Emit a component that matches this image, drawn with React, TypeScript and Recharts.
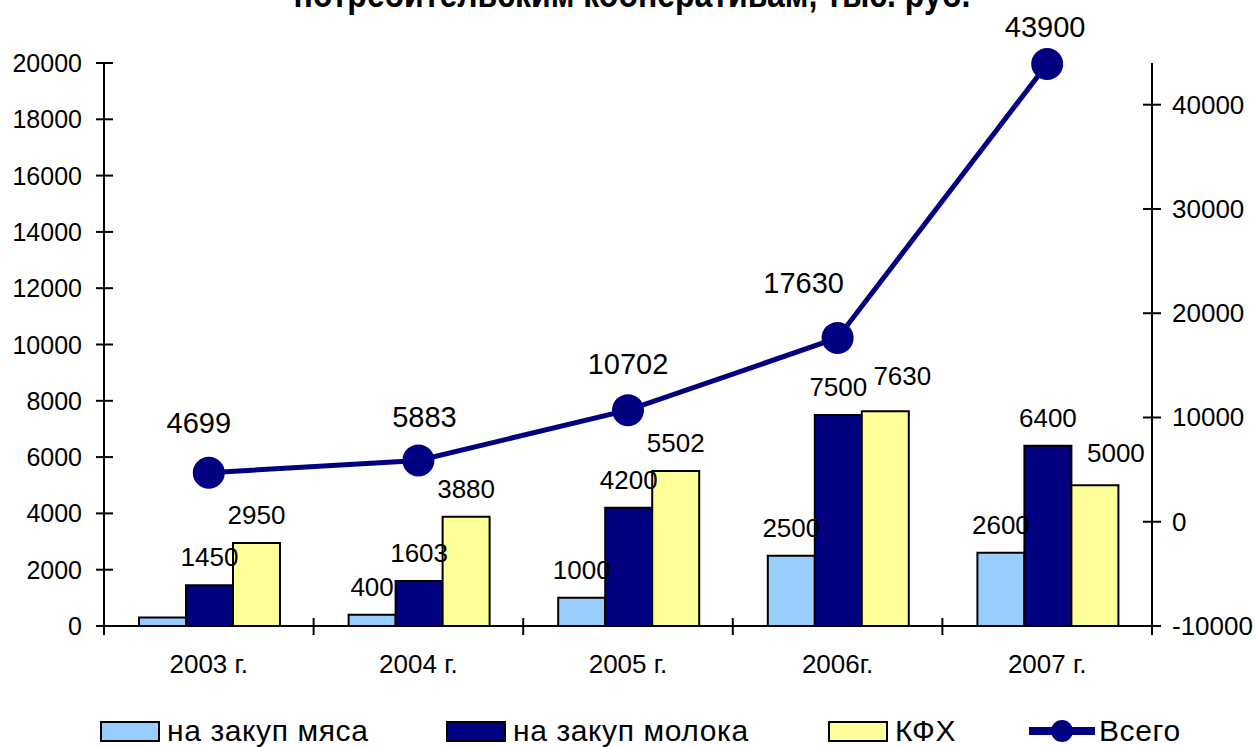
import React from 'react'
import { ComposedChart, Bar, Line, XAxis, YAxis, LabelList } from 'recharts'

const years = ['2003 г.', '2004 г.', '2005 г.', '2006г.', '2007 г.']
const meat = [299, 400, 1000, 2500, 2600]
const milk = [1450, 1603, 4200, 7500, 6400]
const kfh = [2950, 3880, 5502, 7630, 5000]
const total = [4699, 5883, 10702, 17630, 43900]
const leftTicks = [0, 2000, 4000, 6000, 8000, 10000, 12000, 14000, 16000, 18000, 20000]
const rightTicks = [-10000, 0, 10000, 20000, 30000, 40000]

const W = 1256
const H = 747
const PLOT_L = 104
const PLOT_R = 1152
const BAND = (PLOT_R - PLOT_L) / years.length
const FONT = '"Liberation Sans", Arial, sans-serif'
const NAVY = '#000080'

// small nudges so the labels sit where the original put them
const totalLabelDx = [-10, 6, 0, -34, -2]
const totalLabelDy = [-40, -33, -36, -45, -27]
const kfhLabelDx = [0, 0, 0, 17, 21]
const kfhLabelDy = [0, 0, 0, 7, 4]

const data = years.map((y, i) => ({
  year: y,
  meat: meat[i],
  milk: milk[i],
  kfh: kfh[i],
  total: total[i],
}))

function XTick(props: any) {
  const { x, y, payload, index } = props
  const left = x - BAND / 2
  return (
    <g>
      <line x1={left} x2={left} y1={y - 8} y2={y + 9} stroke="#000" strokeWidth={2} />
      {index === years.length - 1 && (
        <line x1={x + BAND / 2} x2={x + BAND / 2} y1={y - 8} y2={y + 9} stroke="#000" strokeWidth={2} />
      )}
      <text x={x} y={y + 47} textAnchor="middle" fontSize={26} fontFamily={FONT} fill="#000">
        {payload.value}
      </text>
    </g>
  )
}

function LeftTick(props: any) {
  const { x, y, payload } = props
  return (
    <g>
      <line x1={x - 8} x2={x + 9} y1={y} y2={y} stroke="#000" strokeWidth={2} />
      <text x={x - 22} y={y + 9} textAnchor="end" fontSize={25} fontFamily={FONT} fill="#000">
        {payload.value}
      </text>
    </g>
  )
}

function RightTick(props: any) {
  const { x, y, payload } = props
  return (
    <g>
      <line x1={x - 9} x2={x + 9} y1={y} y2={y} stroke="#000" strokeWidth={2} />
      <text x={x + 20} y={y + 9} textAnchor="start" fontSize={26} fontFamily={FONT} fill="#000">
        {payload.value}
      </text>
    </g>
  )
}

function barLabel(skipFirst: boolean, dxs?: number[], dys?: number[]) {
  return (props: any) => {
    const { x, y, width, value, index } = props
    if (skipFirst && index === 0) return null
    const shift = dxs ? dxs[index] : 0
    const up = dys ? dys[index] : 0
    return (
      <text x={x + width / 2 + shift} y={y - 19 - up} textAnchor="middle" fontSize={26} fontFamily={FONT} fill="#000">
        {value}
      </text>
    )
  }
}

function TotalLabel(props: any) {
  const { x, y, value, index } = props
  return (
    <text
      x={x + totalLabelDx[index]}
      y={y + totalLabelDy[index]}
      textAnchor="middle"
      fontSize={29}
      fontFamily={FONT}
      fill="#000"
    >
      {value}
    </text>
  )
}

const legendItems = [
  { name: 'на закуп мяса', color: '#99CCFF', left: 100, kind: 'bar' },
  { name: 'на закуп молока', color: NAVY, left: 446, kind: 'bar' },
  { name: 'КФХ', color: '#FFFF99', left: 828, kind: 'bar' },
  { name: 'Всего', color: NAVY, left: 1029, kind: 'line' },
]

function ChartLegend() {
  return (
    <div style={{ position: 'absolute', left: 0, top: 716, width: W, height: 30 }}>
      {legendItems.map(it => (
        <div
          key={it.name}
          style={{ position: 'absolute', left: it.left, top: 0, display: 'flex', alignItems: 'center', height: 30 }}
        >
          {it.kind === 'bar' ? (
            <div style={{ width: 56, height: 17, background: it.color, border: '2px solid #000', boxSizing: 'content-box' }} />
          ) : (
            <svg width={66} height={24}>
              <line x1={0} x2={66} y1={12} y2={12} stroke={it.color} strokeWidth={8} />
              <circle cx={33} cy={12} r={11} fill={it.color} />
            </svg>
          )}
          <span
            style={{
              fontFamily: FONT,
              fontSize: 30,
              letterSpacing: 0.6,
              marginLeft: it.kind === 'bar' ? 7 : 4,
              color: '#000',
              lineHeight: '30px',
            }}
          >
            {it.name}
          </span>
        </div>
      ))}
    </div>
  )
}

export default function App() {
  return (
    <div style={{ position: 'absolute', left: 0, top: 0, width: W, height: H, overflow: 'hidden', background: '#fff' }}>
      <div
        style={{
          position: 'absolute',
          left: 0,
          width: W,
          top: -21,
          textAlign: 'center',
          fontFamily: FONT,
          fontWeight: 'bold',
          fontSize: 32,
          lineHeight: '36px',
          paddingLeft: 8,
          boxSizing: 'border-box',
          transform: 'scale(1, 1.15)',
          transformOrigin: 'center bottom',
        }}
      >
        потребительским кооперативам,  тыс. руб.
      </div>
      <ComposedChart
        width={W}
        height={H}
        data={data}
        margin={{ top: 63, right: 0, bottom: 0, left: 0 }}
        barCategoryGap="16.7%"
        barGap={0}
      >
        <XAxis
          dataKey="year"
          height={121}
          axisLine={{ stroke: '#000', strokeWidth: 2 }}
          tickLine={false}
          tickSize={0}
          tickMargin={0}
          tick={<XTick />}
          interval={0}
        />
        <YAxis
          yAxisId="left"
          orientation="left"
          width={PLOT_L}
          domain={[0, 20000]}
          ticks={leftTicks}
          axisLine={{ stroke: '#000', strokeWidth: 2 }}
          tickLine={false}
          tickSize={0}
          tickMargin={0}
          tick={<LeftTick />}
          interval={0}
        />
        <YAxis
          yAxisId="right"
          orientation="right"
          width={W - PLOT_R}
          domain={[-10000, 44000]}
          ticks={rightTicks}
          axisLine={{ stroke: '#000', strokeWidth: 2 }}
          tickLine={false}
          tickSize={0}
          tickMargin={0}
          tick={<RightTick />}
          interval={0}
        />
        <Bar yAxisId="left" dataKey="meat" name="на закуп мяса" fill="#99CCFF" stroke="#000" strokeWidth={2} isAnimationActive={false}>
          <LabelList dataKey="meat" content={barLabel(true)} />
        </Bar>
        <Bar yAxisId="left" dataKey="milk" name="на закуп молока" fill={NAVY} stroke="#000" strokeWidth={2} isAnimationActive={false}>
          <LabelList dataKey="milk" content={barLabel(false)} />
        </Bar>
        <Bar yAxisId="left" dataKey="kfh" name="КФХ" fill="#FFFF99" stroke="#000" strokeWidth={2} isAnimationActive={false}>
          <LabelList dataKey="kfh" content={barLabel(false, kfhLabelDx, kfhLabelDy)} />
        </Bar>
        <Line
          yAxisId="right"
          dataKey="total"
          name="Всего"
          stroke={NAVY}
          strokeWidth={5}
          dot={{ r: 16, fill: NAVY, stroke: 'none' }}
          activeDot={false}
          isAnimationActive={false}
        >
          <LabelList dataKey="total" content={<TotalLabel />} />
        </Line>
      </ComposedChart>
      <ChartLegend />
    </div>
  )
}
